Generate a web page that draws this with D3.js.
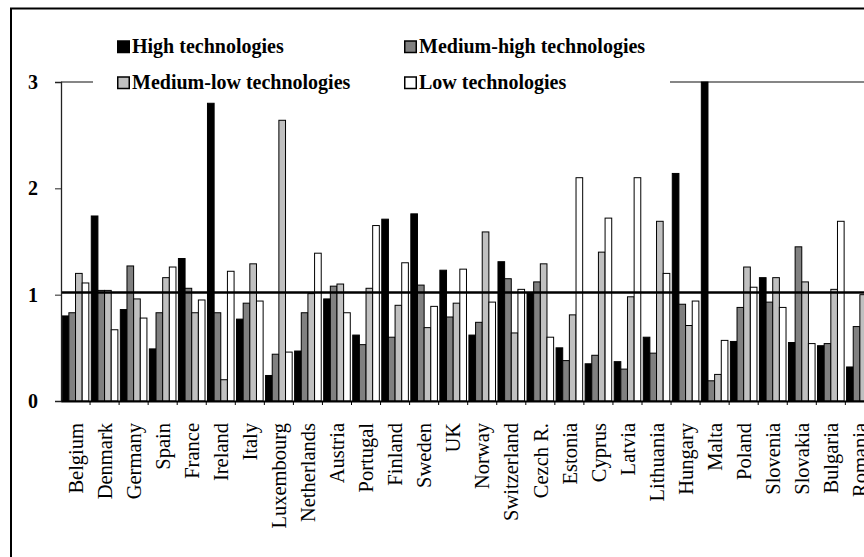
<!DOCTYPE html>
<html>
<head>
<meta charset="utf-8">
<script src="https://cdn.jsdelivr.net/npm/d3@7"></script>
<style>
  body { margin: 0; background: #fff; }
  svg { display: block; font-family: "Liberation Serif", "Times New Roman", serif; }
</style>
</head>
<body>
<div class="chart-con"></div>
<script>
var countries = ['Belgium','Denmark','Germany','Spain','France','Ireland','Italy','Luxembourg',
   'Netherlands','Austria','Portugal','Finland','Sweden','UK','Norway','Switzerland','Cezch R.',
   'Estonia','Cyprus','Latvia','Lithuania','Hungary','Malta','Poland','Slovenia','Slovakia',
   'Bulgaria','Romania']

var high = [0.80,1.74,0.86,0.49,1.34,2.80,0.77,0.24,0.47,0.96,0.62,1.71,1.76,1.23,0.62,1.31,1.02,
   0.50,0.35,0.37,0.60,2.14,3.50,0.56,1.16,0.55,0.52,0.32]
var mediumHigh = [0.83,1.04,1.27,0.83,1.06,0.83,0.92,0.44,0.83,1.08,0.53,0.60,1.09,0.79,0.74,1.15,1.12,
   0.38,0.43,0.30,0.45,0.91,0.19,0.88,0.93,1.45,0.54,0.70]
var mediumLow = [1.20,1.04,0.96,1.16,0.83,0.20,1.29,2.64,1.01,1.10,1.06,0.90,0.69,0.92,1.59,0.64,1.29,
   0.81,1.40,0.98,1.69,0.71,0.25,1.26,1.16,1.12,1.05,1.00]
var low = [1.11,0.67,0.78,1.26,0.95,1.22,0.94,0.46,1.39,0.83,1.65,1.30,0.89,1.24,0.93,1.05,0.60,
   2.10,1.72,2.10,1.20,0.94,0.57,1.07,0.88,0.54,1.69,null]

var seriesNames = ['High technologies','Medium-high technologies','Medium-low technologies','Low technologies']
var seriesColors = ['#000000','#808080','#c0c0c0','#ffffff']
var yTicks = [0,1,2,3]
var refValue = 1.02

var series = [high, mediumHigh, mediumLow, low]

var width = 864, height = 557
var plot = {left: 61, top: 82, bottom: 401, step: 29.05}

var svg = d3.select('.chart-con')
   .append('svg')
   .attr('width', width)
   .attr('height', height)

// outer frame (chart is cropped on the right and bottom)
svg.append('rect')
   .attr('x', 11)
   .attr('y', 8.5)
   .attr('width', 1000)
   .attr('height', 700)
   .style('fill', '#fff')
   .style('stroke', '#000')
   .style('stroke-width', 2)

var x0 = d3.scaleBand()
   .domain(countries)
   .range([plot.left, plot.left + plot.step * countries.length])

var x1 = d3.scaleBand()
   .domain(d3.range(series.length))
   .range([0, x0.bandwidth()])
   .paddingOuter(0.184)

var y = d3.scaleLinear()
   .domain([0, 3])
   .range([plot.bottom, plot.top])
   .clamp(true)

// gridline at top value
svg.append('line')
   .attr('x1', plot.left)
   .attr('x2', width)
   .attr('y1', y(3))
   .attr('y2', y(3))
   .style('stroke', '#868686')
   .style('stroke-width', 2)

// bars
var groups = svg.selectAll('.country')
   .data(countries)
   .enter()
   .append('g')
   .attr('class', 'country')
   .attr('transform', function(d){ return 'translate(' + x0(d) + ',0)' })

groups.selectAll('rect')
   .data(function(d, i){
      return series.map(function(s, j){ return {k: j, v: s[i]} }).filter(function(e){ return e.v != null })
   })
   .enter()
   .append('rect')
   .attr('x', function(d){ return x1(d.k) })
   .attr('width', x1.bandwidth())
   .attr('y', function(d){ return y(d.v) })
   .attr('height', function(d){ return y(0) - y(d.v) })
   .style('fill', function(d){ return seriesColors[d.k] })
   .style('stroke', '#000')
   .style('stroke-width', 1)

// reference line
svg.append('line')
   .attr('x1', plot.left)
   .attr('x2', width)
   .attr('y1', y(refValue))
   .attr('y2', y(refValue))
   .style('stroke', '#000')
   .style('stroke-width', 2.5)

// y axis
var yAxis = d3.axisLeft(y)
   .tickValues(yTicks)
   .tickSize(6)
   .tickPadding(17)
   .tickFormat(d3.format('d'))

svg.append('g')
   .attr('class', 'y-axis')
   .attr('transform', 'translate(' + plot.left + ',0)')
   .call(yAxis)
   .call(function(g){
      g.select('.domain').style('stroke', '#222').style('stroke-width', 1.3)
      g.selectAll('.tick line').style('stroke', '#222')
      g.selectAll('.tick text')
         .style('font-family', '"Liberation Serif", serif')
         .style('font-size', '20px')
         .style('font-weight', 'bold')
         .style('fill', '#000')
   })

// x axis
var xAxis = d3.axisBottom(x0)
   .tickSize(0)
   .tickPadding(0)

var xg = svg.append('g')
   .attr('class', 'x-axis')
   .attr('transform', 'translate(0,' + plot.bottom + ')')
   .call(xAxis)

xg.select('.domain').style('stroke', '#000').style('stroke-width', 2)

xg.selectAll('.tick text')
   .style('font-family', '"Liberation Serif", serif')
   .style('font-size', '20.5px')
   .style('fill', '#000')
   .attr('text-anchor', 'end')
   .attr('transform', 'rotate(-90)')
   .attr('x', -22)
   .attr('y', 0)
   .attr('dy', '0.35em')

xg.selectAll('.boundary')
   .data(countries)
   .enter()
   .append('line')
   .attr('class', 'boundary')
   .attr('x1', function(d){ return x0(d) + x0.bandwidth() })
   .attr('x2', function(d){ return x0(d) + x0.bandwidth() })
   .attr('y1', 0)
   .attr('y2', 4)
   .style('stroke', '#000')

// legend
var legend = svg.append('g')
   .attr('class', 'legend')

legend.append('rect')
   .attr('x', 93)
   .attr('y', 30)
   .attr('width', 577)
   .attr('height', 68)
   .style('fill', '#fff')

var legendItems = legend.selectAll('.item')
   .data(seriesNames)
   .enter()
   .append('g')
   .attr('class', 'item')
   .attr('transform', function(d, i){
      return 'translate(' + (i % 2 == 0 ? 117 : 404) + ',' + (i < 2 ? 53 : 89) + ')'
   })

legendItems.append('rect')
   .attr('x', 0.75)
   .attr('y', -12)
   .attr('width', 11.5)
   .attr('height', 11.5)
   .style('fill', function(d, i){ return seriesColors[i] })
   .style('stroke', '#000')
   .style('stroke-width', 1.5)

legendItems.append('text')
   .attr('x', 15)
   .attr('y', 0)
   .style('font-size', '20px')
   .style('font-weight', 'bold')
   .text(function(d){ return d })
</script>
</body>
</html>
